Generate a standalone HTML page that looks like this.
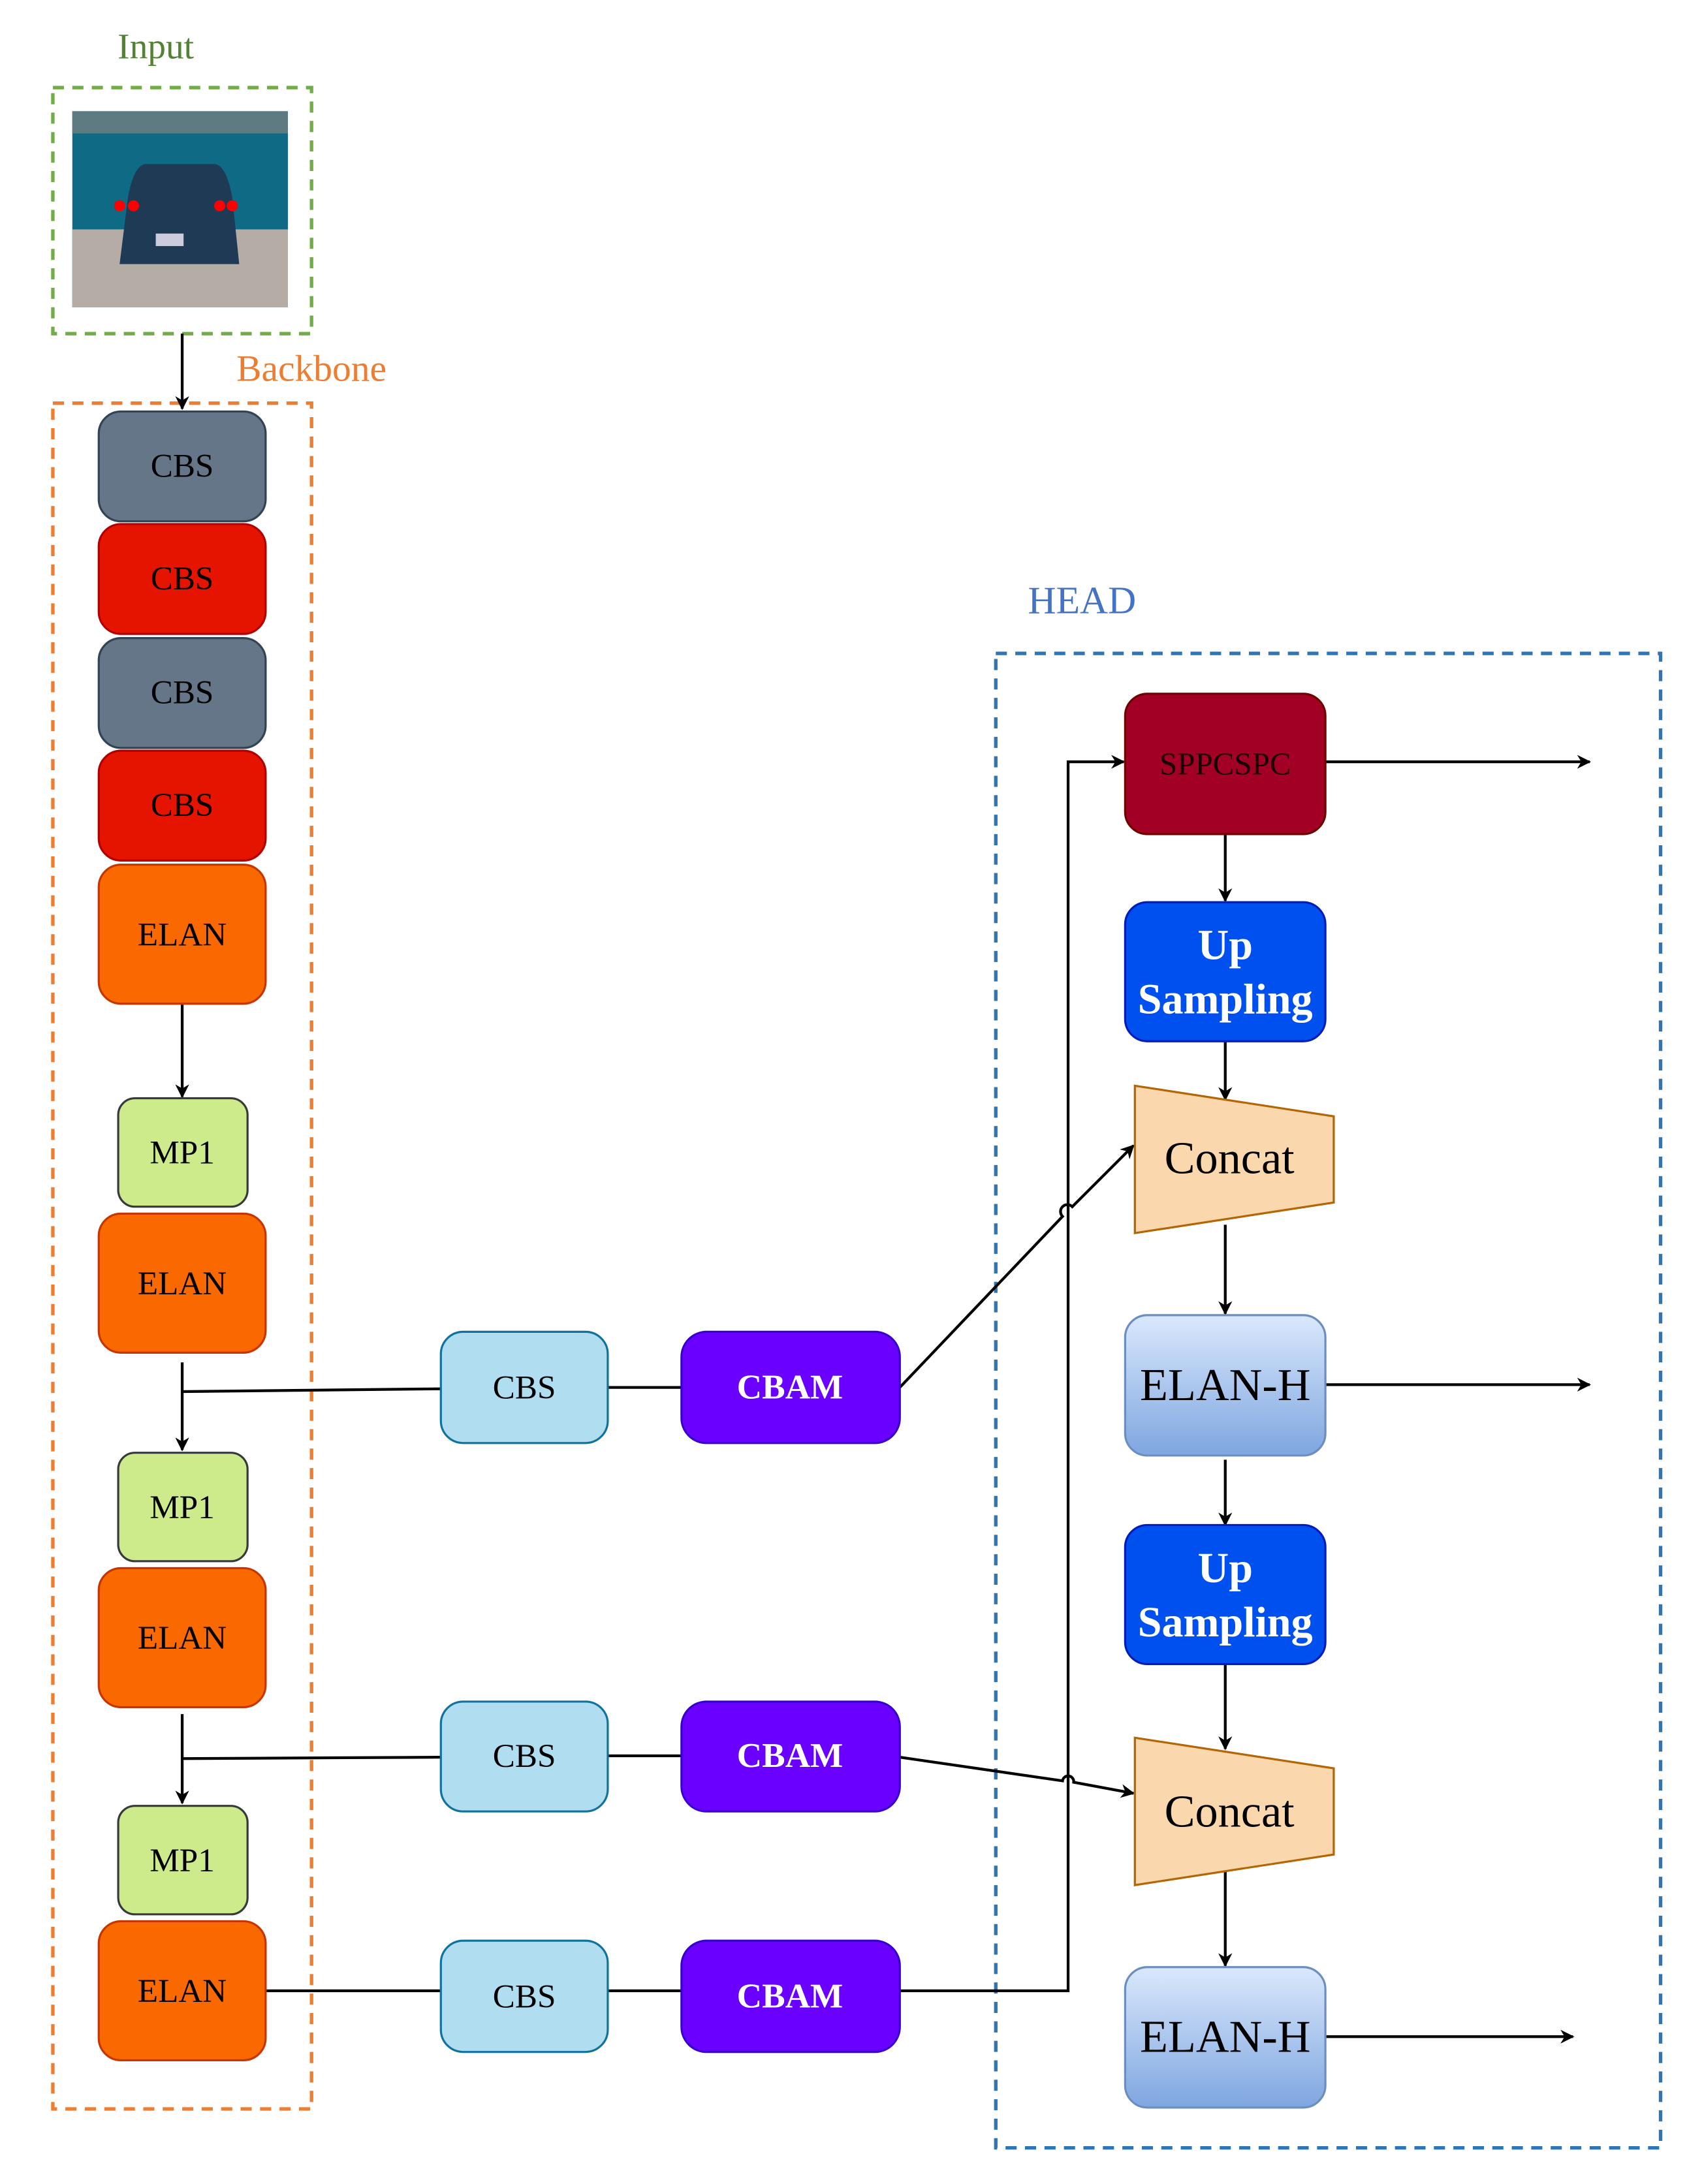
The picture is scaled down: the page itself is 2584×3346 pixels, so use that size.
<!DOCTYPE html>
<html><head><meta charset="utf-8"><style>html,body{margin:0;padding:0;background:#fff}svg{display:block}</style></head><body>
<svg width="2584" height="3346" viewBox="0 0 1213 1571" preserveAspectRatio="none" xmlns="http://www.w3.org/2000/svg" font-family="Liberation Serif, serif">
<defs>
<marker id="a" markerWidth="10" markerHeight="10" refX="9" refY="5" orient="auto" markerUnits="userSpaceOnUse"><path d="M0,0 L10,5 L0,10 L3,5 z" fill="#000"/></marker>
<linearGradient id="g" x1="0" y1="0" x2="0" y2="1"><stop offset="0" stop-color="#dae8fc"/><stop offset="1" stop-color="#7ea6e0"/></linearGradient>
</defs>
<text x="112" y="42" font-size="26" fill="#548235" text-anchor="middle">Input</text>
<rect x="38" y="63" width="186" height="177" fill="none" stroke="#70ad47" stroke-width="2.5" stroke-dasharray="8,6"/>
<rect x="52" y="80" width="155" height="141" fill="#0f6a86"/>
<rect x="52" y="80" width="155" height="16" fill="#5d7a80"/>
<rect x="52" y="165" width="155" height="56" fill="#b6aca6"/>
<path d="M92,142 Q96,120 104,118 L155,118 Q163,120 167,142 L172,190 L86,190 Z" fill="#1e3a55"/>
<circle cx="86" cy="148" r="4" fill="#f00"/><circle cx="96" cy="148" r="4" fill="#f00"/><circle cx="158" cy="148" r="4" fill="#f00"/><circle cx="167" cy="148" r="4" fill="#f00"/>
<rect x="112" y="168" width="20" height="9" fill="#ccd"/>
<text x="170" y="274" font-size="27" fill="#ed7d31">Backbone</text>
<rect x="38" y="290" width="186" height="1227" fill="none" stroke="#ed7d31" stroke-width="2.5" stroke-dasharray="8,6"/>
<text x="778" y="441" font-size="28" fill="#4472c4" text-anchor="middle">HEAD</text>
<rect x="716" y="470" width="478" height="1075" fill="none" stroke="#2e75b6" stroke-width="2.5" stroke-dasharray="8,6"/>
<g stroke="#000" stroke-width="2" fill="none">
<line x1="131" y1="240" x2="131" y2="294" marker-end="url(#a)"/>
<line x1="131" y1="722" x2="131" y2="789" marker-end="url(#a)"/>
<line x1="131" y1="980" x2="131" y2="1043" marker-end="url(#a)"/>
<line x1="131" y1="1001" x2="317" y2="999"/>
<line x1="437" y1="998" x2="490" y2="998"/>
<path d="M647,998 L764,875 A4,4 0 0 1 771,868 L815,824" marker-end="url(#a)"/>
<line x1="131" y1="1233" x2="131" y2="1297" marker-end="url(#a)"/>
<line x1="131" y1="1265" x2="317" y2="1264"/>
<line x1="437" y1="1263" x2="490" y2="1263"/>
<path d="M647,1264 L764,1281 A4,4 0 0 1 772,1282 L815,1290" marker-end="url(#a)"/>
<line x1="191" y1="1432" x2="317" y2="1432"/>
<line x1="437" y1="1432" x2="490" y2="1432"/>
<path d="M647,1432 L768,1432 L768,548 L808,548" marker-end="url(#a)"/>
<line x1="953" y1="548" x2="1143" y2="548" marker-end="url(#a)"/>
<line x1="881" y1="600" x2="881" y2="648" marker-end="url(#a)"/>
<line x1="881" y1="749" x2="881" y2="791" marker-end="url(#a)"/>
<line x1="881" y1="881" x2="881" y2="945" marker-end="url(#a)"/>
<line x1="953" y1="996" x2="1143" y2="996" marker-end="url(#a)"/>
<line x1="881" y1="1050" x2="881" y2="1097" marker-end="url(#a)"/>
<line x1="881" y1="1197" x2="881" y2="1258" marker-end="url(#a)"/>
<line x1="881" y1="1345" x2="881" y2="1414" marker-end="url(#a)"/>
<line x1="953" y1="1465" x2="1131" y2="1465" marker-end="url(#a)"/>
</g>
<g stroke-width="1.5" font-size="24" text-anchor="middle">
<rect x="71" y="296" width="120" height="79" rx="16" fill="#647687" stroke="#314354"/><text x="131" y="343">CBS</text>
<rect x="71" y="377" width="120" height="79" rx="16" fill="#e51400" stroke="#b20000"/><text x="131" y="424">CBS</text>
<rect x="71" y="459" width="120" height="79" rx="16" fill="#647687" stroke="#314354"/><text x="131" y="506">CBS</text>
<rect x="71" y="540" width="120" height="79" rx="16" fill="#e51400" stroke="#b20000"/><text x="131" y="587">CBS</text>
<rect x="71" y="622" width="120" height="100" rx="16" fill="#fa6800" stroke="#c73500"/><text x="131" y="680">ELAN</text>
<rect x="85" y="790" width="93" height="78" rx="12" fill="#cdeb8b" stroke="#36393d"/><text x="131" y="837">MP1</text>
<rect x="71" y="873" width="120" height="100" rx="16" fill="#fa6800" stroke="#c73500"/><text x="131" y="931">ELAN</text>
<rect x="85" y="1045" width="93" height="78" rx="12" fill="#cdeb8b" stroke="#36393d"/><text x="131" y="1092">MP1</text>
<rect x="71" y="1128" width="120" height="100" rx="16" fill="#fa6800" stroke="#c73500"/><text x="131" y="1186">ELAN</text>
<rect x="85" y="1299" width="93" height="78" rx="12" fill="#cdeb8b" stroke="#36393d"/><text x="131" y="1346">MP1</text>
<rect x="71" y="1382" width="120" height="100" rx="16" fill="#fa6800" stroke="#c73500"/><text x="131" y="1440">ELAN</text>
<rect x="317" y="958" width="120" height="80" rx="16" fill="#b1ddf0" stroke="#10739e"/><text x="377" y="1006">CBS</text>
<rect x="317" y="1224" width="120" height="79" rx="16" fill="#b1ddf0" stroke="#10739e"/><text x="377" y="1271">CBS</text>
<rect x="317" y="1396" width="120" height="80" rx="16" fill="#b1ddf0" stroke="#10739e"/><text x="377" y="1444">CBS</text>
<g fill="#fff" font-weight="bold" font-size="25">
<rect x="490" y="958" width="157" height="80" rx="18" fill="#6a00ff" stroke="#3700cc"/><text x="568" y="1006">CBAM</text>
<rect x="490" y="1224" width="157" height="79" rx="18" fill="#6a00ff" stroke="#3700cc"/><text x="568" y="1271">CBAM</text>
<rect x="490" y="1396" width="157" height="80" rx="18" fill="#6a00ff" stroke="#3700cc"/><text x="568" y="1444">CBAM</text>
</g>
<rect x="809" y="499" width="144" height="101" rx="16" fill="#a20025" stroke="#6f0000"/><text x="881" y="557" font-size="23" fill="#1a0005">SPPCSPC</text>
<g fill="#fff" font-weight="bold" font-size="31">
<rect x="809" y="649" width="144" height="100" rx="16" fill="#0050ef" stroke="#001dbc"/><text x="881" y="690">Up</text><text x="881" y="729">Sampling</text>
<rect x="809" y="1097" width="144" height="100" rx="16" fill="#0050ef" stroke="#001dbc"/><text x="881" y="1138">Up</text><text x="881" y="1177">Sampling</text>
</g>
<polygon points="816,781 959,803 959,865 816,887" fill="#fad7ac" stroke="#b46504"/><text x="884" y="844" font-size="33">Concat</text>
<polygon points="816,1250 959,1272 959,1334 816,1356" fill="#fad7ac" stroke="#b46504"/><text x="884" y="1314" font-size="33">Concat</text>
<rect x="809" y="946" width="144" height="101" rx="16" fill="url(#g)" stroke="#6c8ebf"/><text x="881" y="1007" font-size="33">ELAN-H</text>
<rect x="809" y="1415" width="144" height="101" rx="16" fill="url(#g)" stroke="#6c8ebf"/><text x="881" y="1476" font-size="33">ELAN-H</text>
</g>
</svg>
</body></html>
